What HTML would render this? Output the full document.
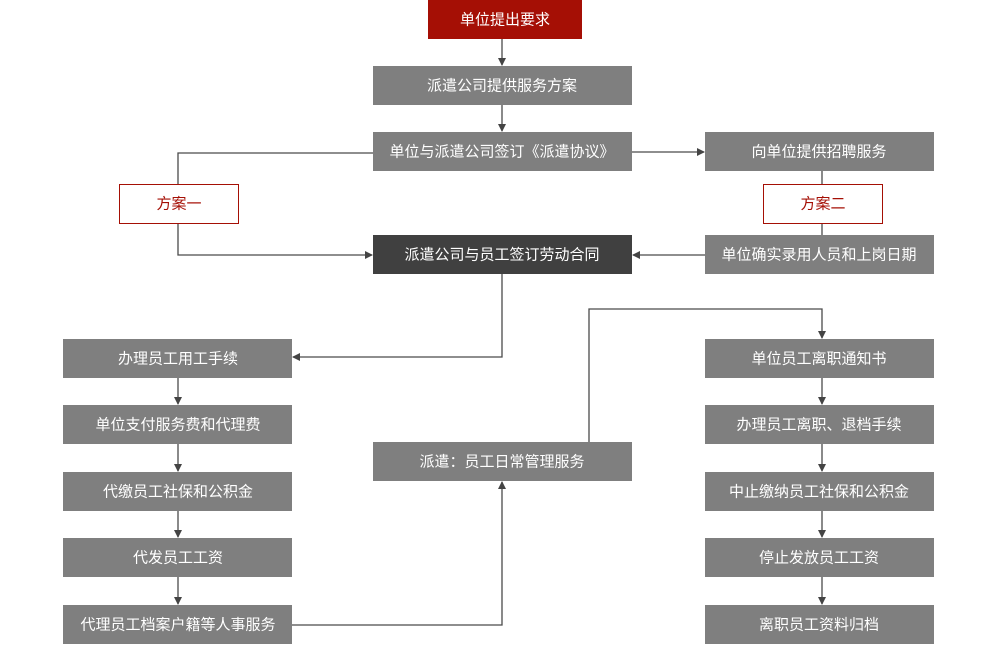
<!DOCTYPE html>
<html><head><meta charset="utf-8"><style>
html,body{margin:0;padding:0;background:#fff;width:1001px;height:645px;overflow:hidden}
svg text{font-family:"Liberation Sans","Noto Sans CJK SC",sans-serif;font-size:15px;text-anchor:middle;dominant-baseline:central}
</style></head><body>
<svg width="1001" height="645" xmlns="http://www.w3.org/2000/svg">
<defs><marker id="a" markerWidth="8" markerHeight="8" refX="7" refY="4" orient="auto" markerUnits="userSpaceOnUse"><path d="M0,0 L8,4 L0,8 z" fill="#444"/></marker></defs>
<g stroke="#4a4a4a" stroke-width="1.3" fill="none">
<path d="M502,39 V65" marker-end="url(#a)"/>
<path d="M502,105 V131" marker-end="url(#a)"/>
<path d="M632,152 H704" marker-end="url(#a)"/>
<path d="M373,153 H178 V184 M178,223 V255 H372" marker-end="url(#a)"/>
<path d="M822,171 V184 M822,223 V235"/>
<path d="M705,255 H633" marker-end="url(#a)"/>
<path d="M502,274 V357 H293" marker-end="url(#a)"/>
<path d="M178,378 V404" marker-end="url(#a)"/>
<path d="M178,444 V471" marker-end="url(#a)"/>
<path d="M178,511 V537" marker-end="url(#a)"/>
<path d="M178,577 V604" marker-end="url(#a)"/>
<path d="M292,625 H502 V482" marker-end="url(#a)"/>
<path d="M589,442 V309 H822 V338" marker-end="url(#a)"/>
<path d="M822,378 V404" marker-end="url(#a)"/>
<path d="M822,444 V471" marker-end="url(#a)"/>
<path d="M822,511 V537" marker-end="url(#a)"/>
<path d="M822,577 V604" marker-end="url(#a)"/>
</g>
<rect x="428" y="0" width="154" height="39" fill="#a50f05"/><text x="505" y="20" fill="#fff">单位提出要求</text>
<rect x="373" y="66" width="259" height="39" fill="#7f7f7f"/><text x="502" y="86" fill="#fff">派遣公司提供服务方案</text>
<rect x="373" y="132" width="259" height="39" fill="#7f7f7f"/><text x="502" y="152" fill="#fff">单位与派遣公司签订《派遣协议》</text>
<rect x="705" y="132" width="229" height="39" fill="#7f7f7f"/><text x="819" y="152" fill="#fff">向单位提供招聘服务</text>
<rect x="119.5" y="184.5" width="119" height="39" fill="#fff" stroke="#a50f05"/><text x="179" y="204" fill="#a50f05">方案一</text>
<rect x="763.5" y="184.5" width="119" height="39" fill="#fff" stroke="#a50f05"/><text x="823" y="204" fill="#a50f05">方案二</text>
<rect x="373" y="235" width="259" height="39" fill="#404040"/><text x="502" y="255" fill="#fff">派遣公司与员工签订劳动合同</text>
<rect x="705" y="235" width="229" height="39" fill="#7f7f7f"/><text x="819" y="255" fill="#fff">单位确实录用人员和上岗日期</text>
<rect x="373" y="442" width="259" height="39" fill="#7f7f7f"/><text x="502" y="462" fill="#fff">派遣：员工日常管理服务</text>
<g fill="#7f7f7f">
<rect x="63" y="339" width="229" height="39"/><rect x="63" y="405" width="229" height="39"/><rect x="63" y="472" width="229" height="39"/><rect x="63" y="538" width="229" height="39"/><rect x="63" y="605" width="229" height="39"/>
<rect x="705" y="339" width="229" height="39"/><rect x="705" y="405" width="229" height="39"/><rect x="705" y="472" width="229" height="39"/><rect x="705" y="538" width="229" height="39"/><rect x="705" y="605" width="229" height="39"/>
</g>
<g fill="#fff">
<text x="178" y="359">办理员工用工手续</text>
<text x="178" y="425">单位支付服务费和代理费</text>
<text x="178" y="492">代缴员工社保和公积金</text>
<text x="178" y="558">代发员工工资</text>
<text x="178" y="625">代理员工档案户籍等人事服务</text>
<text x="819" y="359">单位员工离职通知书</text>
<text x="819" y="425">办理员工离职、退档手续</text>
<text x="819" y="492">中止缴纳员工社保和公积金</text>
<text x="819" y="558">停止发放员工工资</text>
<text x="819" y="625">离职员工资料归档</text>
</g>
</svg>
</body></html>
